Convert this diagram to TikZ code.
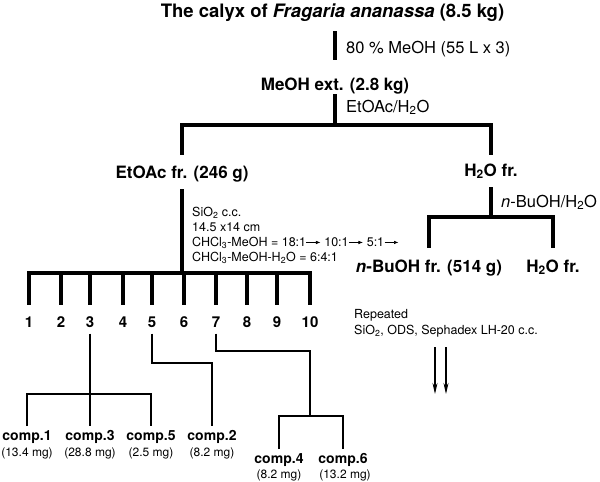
\documentclass[tikz,border=0pt]{standalone}
\usepackage{fontspec}
\setmainfont{TeX Gyre Heros}
\usetikzlibrary{arrows.meta, positioning}
\newcommand{\stepto}{\tikz[baseline=-0.65ex]\draw[-{Latex[length=4.5pt,width=3.5pt]}, line width=0.7pt] (0,0) -- (14pt,0);}

\begin{document}
\begin{tikzpicture}[x=1pt, y=-1pt,
    fraction/.style={font=\fontsize{17}{20}\selectfont\bfseries, inner sep=2pt, anchor=base},
    reagent/.style={font=\fontsize{16.5}{20}\selectfont, inner sep=0pt, anchor=base west},
    note/.style={font=\fontsize{12.5}{15}\selectfont, inner sep=0pt, anchor=base west},
    number/.style={font=\fontsize{15}{18}\selectfont\bfseries, inner sep=2pt, anchor=base},
    compound/.style={font=\fontsize{14}{16}\selectfont\bfseries, inner sep=2pt, outer sep=2pt, anchor=base},
    yield/.style={font=\fontsize{12}{14}\selectfont, inner sep=0pt, anchor=base},
    bar/.style={line width=3.6pt, line cap=rect},
    link/.style={line width=1.1pt},
    flow/.style={line width=1.1pt, -{Stealth[length=11pt, width=5pt]}}
]
    \useasboundingbox (0,0) rectangle (600,482);

    \node[fraction, font=\fontsize{18.5}{20}\selectfont\bfseries] (calyx) at (332.5,17.5) {The calyx of \textit{Fragaria ananassa} (8.5 kg)};
    \node[fraction] (meoh) at (335,90) {MeOH ext. (2.8 kg)};
    \node[fraction] (etoac) at (182,178) {EtOAc fr. (246 g)};
    \node[fraction] (h2o) at (491,176) {H\textsubscript{2}O fr.};
    \node[fraction] (nbuoh) at (429,272) {\textit{n}-BuOH fr. (514 g)};
    \node[fraction] (h2ob) at (553,272) {H\textsubscript{2}O fr.};

    \node[reagent] (aq) at (346,53.3) {80 \% MeOH (55 L x 3)};
    \node[reagent] (part1) at (346,112.3) {EtOAc/H\textsubscript{2}O};
    \node[reagent] (part2) at (501,207) {\textit{n}-BuOH/H\textsubscript{2}O};

    \coordinate (split1) at (335,125);
    \coordinate (split2) at (491,217);
    \coordinate (fracbar) at (182,273);

    \draw[bar, shorten <=9pt, shorten >=17pt] (calyx.south -| meoh) -- (meoh.north);
    \draw[bar] (meoh.south) -- (split1);
    \draw[bar, shorten <=10pt, shorten >=8.4pt] (etoac.north) |- (split1) -| (h2o.north);
    \draw[bar, shorten <=7.8pt] (h2o.south) -- (split2);
    \draw[bar, shorten <=11pt, shorten >=11.4pt] (nbuoh.north) |- (split2) -| (h2ob.north);

    \node[note] (silica) at (192,216) {SiO\textsubscript{2} c.c.};
    \node[note] (size) at (192,231.5) {14.5 x14 cm};
    \node[note] (eluent1) at (192,246.7) {CHCl\textsubscript{3}-MeOH = 18:1\stepto\ 10:1\stepto\ 5:1\stepto};
    \node[note] (eluent2) at (192,261.7) {CHCl\textsubscript{3}-MeOH-H\textsubscript{2}O = 6:4:1};

    \foreach \i/\x in {1/29, 2/61, 3/90, 4/123, 5/152, 6/184, 7/216, 8/247, 9/277, 10/310}
        \node[number] (n\i) at (\x,327.3) {\i};

    \draw[bar, shorten <=7pt] (etoac.south) -- (fracbar);
    \draw[bar] (n1 |- fracbar) -- (n10 |- fracbar);
    \foreach \i in {1,...,10}
        \draw[bar, shorten >=11.4pt] (n\i |- fracbar) -- (n\i.north);

    \node[note] (repeat) at (354,318.3) {Repeated};
    \node[note] (media) at (354,334) {SiO\textsubscript{2}, ODS, Sephadex LH-20 c.c.};
    \coordinate (flowLa) at (435,347);
    \coordinate (flowLb) at (435,394);
    \coordinate (flowRa) at (446,347);
    \coordinate (flowRb) at (446,394);
    \draw[flow] (flowLa) -- (flowLb);
    \draw[flow] (flowRa) -- (flowRb);

    \node[compound] (c1) at (27,440) {comp.1};
    \node[compound] (c3) at (90,440) {comp.3};
    \node[compound] (c5) at (151,440) {comp.5};
    \node[compound] (c2) at (212,440) {comp.2};
    \node[compound] (c4) at (279,463) {comp.4};
    \node[compound] (c6) at (343,463) {comp.6};
    \node[yield] (y1) at (27,456) {(13.4 mg)};
    \node[yield] (y3) at (90,456) {(28.8 mg)};
    \node[yield] (y5) at (151,456) {(2.5 mg)};
    \node[yield] (y2) at (212,456) {(8.2 mg)};
    \node[yield] (y4) at (279,478) {(8.2 mg)};
    \node[yield] (y6) at (345,478) {(13.2 mg)};

    \coordinate (j3) at (90,394);
    \coordinate (j5) at (212,363);
    \coordinate (j7) at (310,351);
    \coordinate (j7b) at (310,416);

    \draw[link, shorten <=4pt] (n3.south) -- (c3.north);
    \draw[link] (c1.north) |- (j3) -| (c5.north);
    \draw[link, shorten <=4pt] (n5.south) |- (j5) -- (c2.north);
    \draw[link, shorten <=4pt] (n7.south) |- (j7) -- (j7b);
    \draw[link] (c4.north) |- (j7b) -| (c6.north);
\end{tikzpicture}
\end{document}
